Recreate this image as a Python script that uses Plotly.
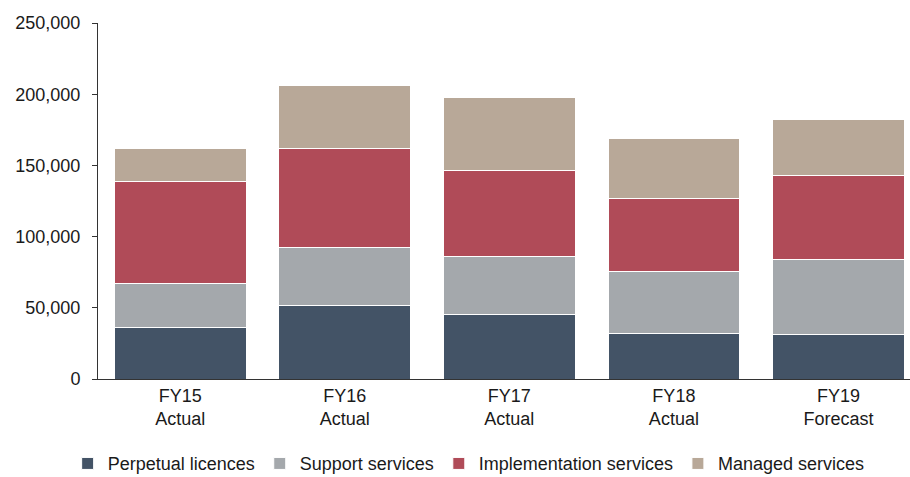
import plotly.graph_objects as go

# Revenue by stream, thousands of units per fiscal year
categories = ["FY15<br>Actual", "FY16<br>Actual", "FY17<br>Actual", "FY18<br>Actual", "FY19<br>Forecast"]
perpetual_licences = [36500, 51800, 45000, 32300, 31600]
support_services = [30800, 40800, 40700, 43400, 52000]
implementation_services = [71700, 69500, 60500, 51300, 59600]
managed_services = [23100, 43800, 51800, 41900, 39300]

series = [
    ("Perpetual licences", perpetual_licences, "#435366"),
    ("Support services", support_services, "#A4A8AC"),
    ("Implementation services", implementation_services, "#B04B58"),
    ("Managed services", managed_services, "#B8A898"),
]

font_family = "Liberation Sans, Arial, sans-serif"

fig = go.Figure()
for name, values, color in series:
    fig.add_trace(go.Bar(
        name=name,
        x=categories,
        y=values,
        marker=dict(color=color, line=dict(color="white", width=1)),
    ))

fig.update_layout(
    barmode="stack",
    bargap=0.2,
    width=910,
    height=477,
    margin=dict(l=98, r=0, t=23, b=98, autoexpand=False),
    paper_bgcolor="white",
    plot_bgcolor="white",
    font=dict(family=font_family, size=18, color="#1a1a1a"),
    showlegend=True,
    legend=dict(
        orientation="h",
        x=0.515,
        xref="container",
        xanchor="center",
        y=-0.238,
        yref="paper",
        yanchor="middle",
        font=dict(size=18),
        itemclick=False,
        traceorder="normal",
    ),
    xaxis=dict(
        type="category",
        range=[-0.5, 4.435],
        showline=True,
        linecolor="#333333",
        linewidth=1,
        ticks="",
        showgrid=False,
        tickfont=dict(size=18),
    ),
    yaxis=dict(
        range=[0, 250000],
        tickvals=[0, 50000, 100000, 150000, 200000, 250000],
        tickformat=",d",
        showline=True,
        linecolor="#333333",
        linewidth=1,
        ticks="outside",
        ticklen=5,
        tickcolor="#333333",
        ticklabelstandoff=8,
        showgrid=False,
        zeroline=False,
        tickfont=dict(size=18),
    ),
)

fig.write_html("out.html")
